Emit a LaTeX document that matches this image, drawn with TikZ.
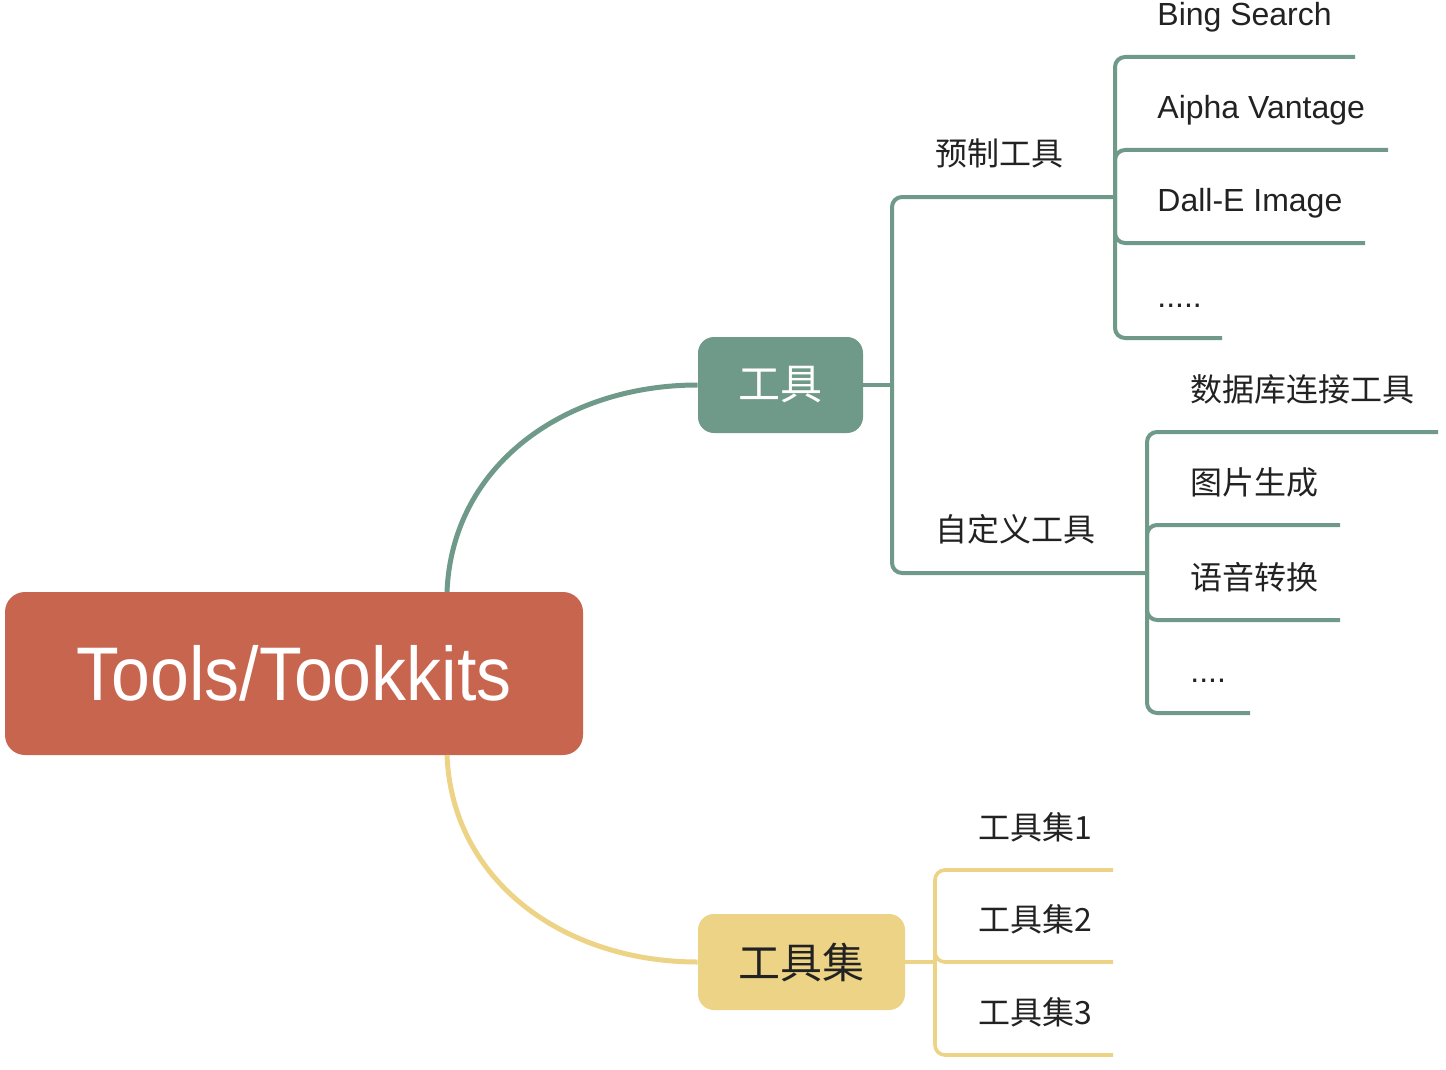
\documentclass[tikz,border=0pt]{standalone}
\usepackage{fontspec}
\setmainfont{Liberation Sans}
\newfontfamily\cjk{Noto Sans CJK SC}
\usepackage{xcolor}
\usepackage{tikz}
\definecolor{toolgreen}{HTML}{6F9A8A}
\definecolor{rootred}{HTML}{C8654F}
\definecolor{kityellow}{HTML}{EDD385}
\definecolor{ink}{HTML}{222222}

\begin{document}
\begin{tikzpicture}[
  x=0.5pt, y=-0.5pt,
  font=\fontsize{16}{18}\selectfont,
  root/.style={fill=rootred, rounded corners=10pt, minimum width=289pt, minimum height=81.5pt, inner sep=0pt, text=white, font=\fontsize{38}{40}\selectfont},
  topic/.style={rounded corners=8pt, minimum height=48pt, inner sep=0pt, font=\cjk\fontsize{21}{24}\selectfont},
  leaf/.style={anchor=base west, inner sep=0pt, text=ink},
  gline/.style={draw=toolgreen, line width=2pt, rounded corners=5pt},
  yline/.style={draw=kityellow, line width=1.8pt, rounded corners=5pt}
]
\useasboundingbox (0,0) rectangle (1446,1070);
% main topics
\node[root] (root) at (294,673.5) {\scalebox{0.92}[1]{Tools/Tookkits}};
\node[topic, fill=toolgreen, text=white, minimum width=82.5pt] (tool) at (780.5,385) {工具};
\node[topic, fill=kityellow, text=ink, minimum width=103.5pt] (kit) at (801.5,962) {工具集};
\coordinate (rt) at (447,592);
\coordinate (rb) at (447,755);
% junctions
\coordinate (tj) at (892,385);
\coordinate (pj) at (1115,197);
\coordinate (cj) at (1147,573);
\coordinate (kj) at (935,962);
% underline ends
\coordinate (p1) at (1355,57);
\coordinate (p2) at (1388,150);
\coordinate (p3) at (1365,243);
\coordinate (p4) at (1222,338);
\coordinate (c1) at (1438,432);
\coordinate (c2) at (1340,525);
\coordinate (c3) at (1340,620);
\coordinate (c4) at (1250,713);
\coordinate (k1) at (1113,870);
\coordinate (k2) at (1113,962);
\coordinate (k3) at (1113,1055);
% labels
\node[leaf] (pre) at (935,166) {\cjk 预制工具};
\node[leaf] (cus) at (935,541) {\cjk 自定义工具};
\node[leaf] (bing) at (1157,26) {Bing Search};
\node[leaf] (alpha) at (1157,119) {Aipha Vantage};
\node[leaf] (dalle) at (1157,212) {Dall-E Image};
\node[leaf] (pmore) at (1157,307) {.....};
\node[leaf] (db) at (1190,401) {\cjk 数据库连接工具};
\node[leaf] (img) at (1190,494) {\cjk 图片生成};
\node[leaf] (voice) at (1190,589) {\cjk 语音转换};
\node[leaf] (cmore) at (1190,682) {....};
\node[leaf] (ks1) at (978,839) {\cjk 工具集1};
\node[leaf] (ks2) at (978,931) {\cjk 工具集2};
\node[leaf] (ks3) at (978,1024) {\cjk 工具集3};
% connectors
\draw[gline, line width=2.5pt] (rt) .. controls (452,465) and (565,385) .. (tool.west);
\draw[yline, line width=2.5pt] (rb) .. controls (452,882) and (565,962) .. (kit.west);
\draw[gline] (tool.east) -- (tj);
\foreach \j in {pj,cj} \draw[gline] (tj) |- (\j);
\foreach \c in {p1,p2,p3,p4} \draw[gline] (pj) |- (\c);
\foreach \c in {c1,c2,c3,c4} \draw[gline] (cj) |- (\c);
\draw[yline] (kit.east) -- (kj);
\foreach \c in {k1,k2,k3} \draw[yline] (kj) |- (\c);
\end{tikzpicture}
\end{document}
